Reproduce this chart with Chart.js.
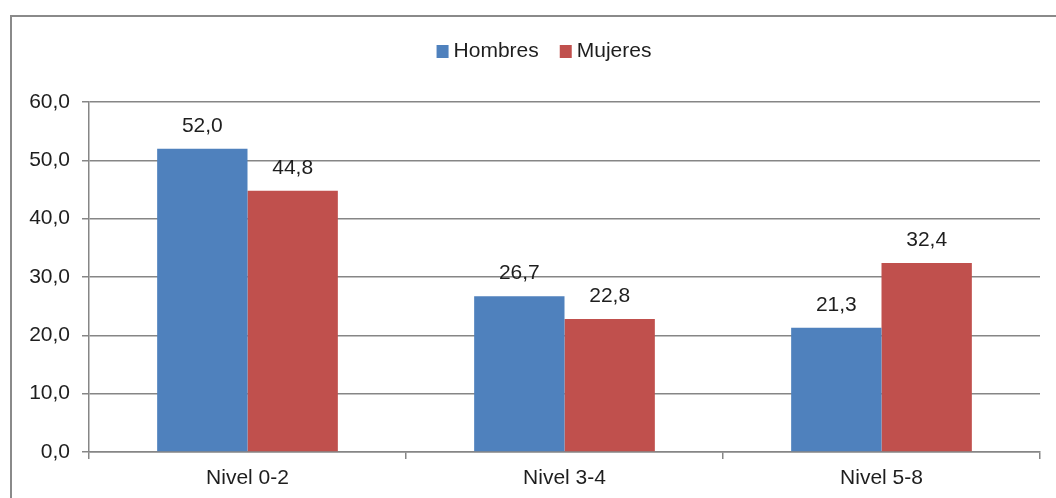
<!DOCTYPE html>
<html>
<head>
<meta charset="utf-8">
<script src="https://cdn.jsdelivr.net/npm/chart.js@4/dist/chart.umd.min.js"></script>
<style>
html,body{margin:0;padding:0;background:#fff;}
#wrap{position:relative;width:1056px;height:498px;}
</style>
</head>
<body>
<div id="wrap"><canvas id="c" width="1056" height="498"></canvas></div>
<script>
const categories = ["Nivel 0-2", "Nivel 3-4", "Nivel 5-8"];
const seriesNames = ["Hombres", "Mujeres"];
const hombres = [52.0, 26.7, 21.3];
const mujeres = [44.8, 22.8, 32.4];
const yTicks = [0, 10, 20, 30, 40, 50, 60];

const COLORS = ["#4F81BD", "#C0504D"];
const FONT = "'Liberation Sans', Arial, Helvetica, sans-serif";
const TEXT = "#1e1e1e";
const GRID = "#868686";
const fmt = v => v.toFixed(1).replace('.', ',');

const framePlugin = {
  id: 'frame',
  beforeDraw(chart) {
    const ctx = chart.ctx;
    ctx.save();
    ctx.strokeStyle = "#8a8a8a";
    ctx.lineWidth = 2;
    ctx.beginPath();
    ctx.moveTo(11, 498);
    ctx.lineTo(11, 16);
    ctx.lineTo(1056, 16);
    ctx.stroke();
    ctx.restore();
  }
};

const labelPlugin = {
  id: 'barLabels',
  afterDatasetsDraw(chart) {
    const ctx = chart.ctx;
    ctx.save();
    ctx.font = "21px " + FONT;
    ctx.fillStyle = TEXT;
    ctx.textAlign = 'center';
    ctx.textBaseline = 'alphabetic';
    chart.data.datasets.forEach((ds, i) => {
      const meta = chart.getDatasetMeta(i);
      meta.data.forEach((bar, j) => {
        ctx.fillText(fmt(ds.data[j]), bar.x, bar.y - 17);
      });
    });
    ctx.restore();
  }
};

const legendPlugin = {
  id: 'customLegend',
  afterDraw(chart) {
    const ctx = chart.ctx;
    ctx.save();
    ctx.font = "21px " + FONT;
    ctx.textBaseline = 'middle';
    ctx.textAlign = 'left';
    const box = 12, gapText = 5, gapItem = 21, cy = 51;
    const items = chart.data.datasets.map(d => ({ text: d.label, color: d.backgroundColor, w: ctx.measureText(d.label).width }));
    let total = 0;
    items.forEach((it, k) => { total += box + gapText + it.w + (k < items.length - 1 ? gapItem : 0); });
    let x = 544 - total / 2;
    items.forEach(it => {
      ctx.fillStyle = it.color;
      ctx.fillRect(x, cy - 6, box, box + 1);
      ctx.fillStyle = TEXT;
      ctx.fillText(it.text, x + box + gapText, cy);
      x += box + gapText + it.w + gapItem;
    });
    ctx.restore();
  }
};

new Chart(document.getElementById('c'), {
  type: 'bar',
  data: {
    labels: categories,
    datasets: [
      { label: seriesNames[0], data: hombres, backgroundColor: COLORS[0] },
      { label: seriesNames[1], data: mujeres, backgroundColor: COLORS[1] }
    ]
  },
  options: {
    responsive: false,
    animation: false,
    devicePixelRatio: 1,
    layout: { padding: { top: 102, right: 16, bottom: 0, left: 0 } },
    categoryPercentage: 0.57,
    barPercentage: 1.0,
    plugins: {
      legend: { display: false },
      tooltip: { enabled: false }
    },
    scales: {
      x: {
        grid: { offset: true, drawOnChartArea: false, drawTicks: true, tickLength: 7, color: GRID, lineWidth: 1.5 },
        border: { display: true, color: GRID, width: 1.5 },
        ticks: { color: TEXT, font: { family: FONT, size: 21 }, padding: 7 },
        afterFit(s) { s.height = 46; }
      },
      y: {
        min: 0, max: 60,
        afterBuildTicks(s) { s.ticks = yTicks.map(v => ({ value: v })); },
        grid: { color: GRID, lineWidth: 1.5, tickLength: 7, drawTicks: true },
        border: { display: true, color: GRID, width: 1.5 },
        ticks: { color: TEXT, font: { family: FONT, size: 21 }, padding: 12, callback: v => fmt(v) },
        afterFit(s) { s.width = 89; }
      }
    }
  },
  plugins: [framePlugin, labelPlugin, legendPlugin]
});
</script>
</body>
</html>
